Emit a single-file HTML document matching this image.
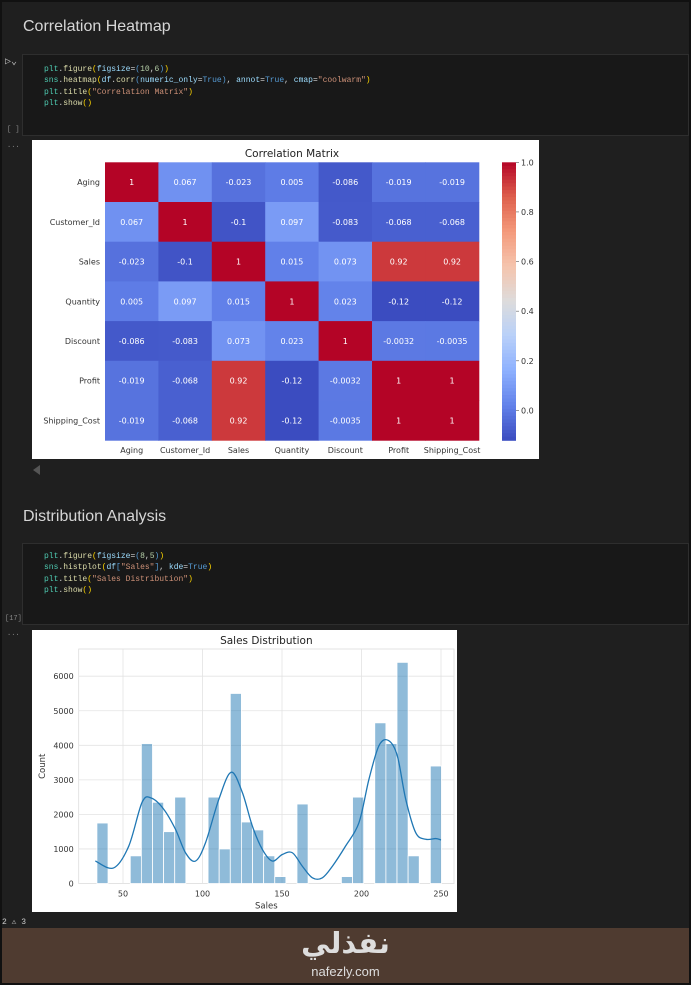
<!DOCTYPE html>
<html><head><meta charset="utf-8">
<style>
*{margin:0;padding:0;box-sizing:border-box}
body{width:691px;height:985px;background:#111;position:relative;overflow:hidden;font-family:"Liberation Sans",sans-serif}
#frame{position:absolute;left:2px;top:2px;width:687px;height:926px;background:#1f1f1f}
.h{position:absolute;left:21px;color:#d6d6d6;font-size:16px;font-family:"Liberation Sans",sans-serif}
.cell{position:absolute;left:20px;right:0;background:#181818;border:1px solid #2e2e2e}
.code{position:absolute;left:42px;font-family:"Liberation Mono",monospace;font-size:8px;line-height:11.3px;color:#d4d4d4;white-space:pre}
.k{color:#4ec9b0}.f{color:#dcdcaa}.s{color:#ce9178}.n{color:#b5cea8}.p{color:#9cdcfe}.b{color:#ffd700}.c{color:#569cd6}
.g{position:absolute;color:#888;font-size:7px;font-family:"Liberation Mono",monospace}
.img{position:absolute;background:#fff}
#footer{position:absolute;left:2px;top:928px;width:687px;height:55px;background:#4f3b30}
</style></head><body>
<div id="frame">
<div class="h" style="top:16px">Correlation Heatmap</div>
<div class="g" style="left:3px;top:54px;font-size:10px;color:#bbb">▷⌄</div>
<div class="cell" style="top:52px;height:82px"></div>
<div class="code" style="top:62px"><span class="k">plt</span>.<span class="f">figure</span><span class="b">(</span><span class="p">figsize</span>=<span class="c">(</span><span class="n">10</span>,<span class="n">6</span><span class="c">)</span><span class="b">)</span>
<span class="k">sns</span>.<span class="f">heatmap</span><span class="b">(</span><span class="p">df</span>.<span class="f">corr</span><span class="c">(</span><span class="p">numeric_only</span>=<span class="c">True</span><span class="c">)</span>, <span class="p">annot</span>=<span class="c">True</span>, <span class="p">cmap</span>=<span class="s">"coolwarm"</span><span class="b">)</span>
<span class="k">plt</span>.<span class="f">title</span><span class="b">(</span><span class="s">"Correlation Matrix"</span><span class="b">)</span>
<span class="k">plt</span>.<span class="f">show</span><span class="b">()</span></div>
<div class="g" style="left:5px;top:124px">[ ]</div>
<div class="g" style="left:5px;top:140px">...</div>
<div class="img" style="left:30px;top:138px;width:507px;height:319px">
<svg id="hm" width="507" height="319" xmlns="http://www.w3.org/2000/svg" font-family="DejaVu Sans, sans-serif"></svg>
</div>
<div style="position:absolute;left:31px;top:463px;width:0;height:0;border-top:5px solid transparent;border-bottom:5px solid transparent;border-right:7px solid #555"></div>

<div class="h" style="top:506px">Distribution Analysis</div>
<div class="cell" style="top:541px;height:82px"></div>
<div class="code" style="top:549px"><span class="k">plt</span>.<span class="f">figure</span><span class="b">(</span><span class="p">figsize</span>=<span class="c">(</span><span class="n">8</span>,<span class="n">5</span><span class="c">)</span><span class="b">)</span>
<span class="k">sns</span>.<span class="f">histplot</span><span class="b">(</span><span class="p">df</span><span class="c">[</span><span class="s">"Sales"</span><span class="c">]</span>, <span class="p">kde</span>=<span class="c">True</span><span class="b">)</span>
<span class="k">plt</span>.<span class="f">title</span><span class="b">(</span><span class="s">"Sales Distribution"</span><span class="b">)</span>
<span class="k">plt</span>.<span class="f">show</span><span class="b">()</span></div>
<div class="g" style="left:3px;top:613px">[17]</div>
<div class="g" style="left:5px;top:628px">...</div>
<div class="img" style="left:30px;top:628px;width:425px;height:282px">
<svg id="hs" width="425" height="282" xmlns="http://www.w3.org/2000/svg" font-family="DejaVu Sans, sans-serif"></svg>
</div>
<div class="g" style="left:0px;top:915px;color:#ccc;font-size:8px">2 ⚠ 3</div>
</div>
<div id="footer">
<div style="position:absolute;left:0;right:0;top:-2px;text-align:center;color:#ddd;font-size:29px;font-weight:bold;font-family:'DejaVu Sans',sans-serif">نفذلي</div>
<div style="position:absolute;left:0;right:0;top:36px;text-align:center;color:#ddd;font-size:13px">nafezly.com</div>
</div>
<script>
const NS="http://www.w3.org/2000/svg";
function mk(p,t,a,txt){const e=document.createElementNS(NS,t);for(const k in a)e.setAttribute(k,a[k]);if(txt!==undefined)e.textContent=txt;p.appendChild(e);return e;}
// ---- heatmap data ----
const hmLabels=["Aging","Customer_Id","Sales","Quantity","Discount","Profit","Shipping_Cost"];
const hmRow0=[1,0.067,-0.023,0.005,-0.086,-0.019,-0.019];
const hmRow1=[0.067,1,-0.1,0.097,-0.083,-0.068,-0.068];
const hmRow2=[-0.023,-0.1,1,0.015,0.073,0.92,0.92];
const hmRow3=[0.005,0.097,0.015,1,0.023,-0.12,-0.12];
const hmRow4=[-0.086,-0.083,0.073,0.023,1,-0.0032,-0.0035];
const hmRow5=[-0.019,-0.068,0.92,-0.12,-0.0032,1,1];
const hmRow6=[-0.019,-0.068,0.92,-0.12,-0.0035,1,1];
const hmRows=[hmRow0,hmRow1,hmRow2,hmRow3,hmRow4,hmRow5,hmRow6];
const cbTicks=[0.0,0.2,0.4,0.6,0.8,1.0];
// ---- histogram data ----
const binStart=33.6, binWidth=6.99;
const counts=[1750,0,0,800,4050,2350,1500,2500,0,0,2500,1000,5500,1780,1550,800,200,0,2300,0,0,0,200,2500,0,4650,4050,6400,800,0,3400];
const kdeX=[32.6,44.1,53.6,62,67.9,75.6,83,89.3,95.6,101.9,110.3,118,125,131.3,137.6,143.9,150.2,156.5,162.8,169.1,175.4,181.7,190,198.4,204.7,211,216.9,222.5,227.8,234.1,240.4,246.7,250];
const kdeY=[650,450,1080,2350,2470,2150,1570,890,650,1180,2440,3220,2640,1670,990,650,840,890,500,165,165,500,1085,1760,3020,3990,4140,3700,2440,1470,1280,1300,1260];
const xTicks=[50,100,150,200,250];
const yTicks=[0,1000,2000,3000,4000,5000,6000];

const cm=[[0,59,76,192],[.125,98,130,234],[.25,141,176,254],[.375,184,208,249],[.5,221,220,220],[.625,245,196,173],[.75,244,154,123],[.875,222,96,77],[1,180,4,38]];
function cmap(t){t=Math.max(0,Math.min(1,t));for(let i=1;i<cm.length;i++){if(t<=cm[i][0]){const a=cm[i-1],b=cm[i],f=(t-a[0])/(b[0]-a[0]);return `rgb(${[1,2,3].map(j=>Math.round(a[j]+(b[j]-a[j])*f)).join(',')})`;}}return 'rgb(180,4,38)';}
(function(){
 const s=document.getElementById('hm');
 const vmin=-0.12,vmax=1,x0=73,y0=22.3,cw=53.4,ch=39.7;
 const col=v=>cmap((v-vmin)/(vmax-vmin));
 const t=mk(s,'text',{x:260,y:17,'font-size':10.5,'text-anchor':'middle',fill:'#222'},'Correlation Matrix');
 
 
 hmRows.forEach((row,i)=>{
  row.forEach((v,j)=>{
   const r=mk(s,'rect',{x:x0+j*cw,y:y0+i*ch,width:cw+0.5,height:ch+0.5,fill:col(v)});
   
   
   const tt=mk(s,'text',{x:x0+j*cw+cw/2,y:y0+i*ch+ch/2+3,'font-size':8,'text-anchor':'middle',fill:'#fff'},String(v));
   
   
  });
  const yl=mk(s,'text',{x:x0-5,y:y0+i*ch+ch/2+3,'font-size':8,'text-anchor':'end',fill:'#333'},hmLabels[i]);
  
  
  const xl=mk(s,'text',{x:x0+i*cw+cw/2,y:y0+7*ch+13,'font-size':8,'text-anchor':'middle',fill:'#333'},hmLabels[i]);
  
  
 });
 const cbx=470,cby=y0,cbh=7*ch,n=80;
 for(let k=0;k<n;k++){const v=vmax-(k+0.5)/n*(vmax-vmin);const r=mk(s,'rect',{x:cbx,y:cby+k*cbh/n,width:14,height:cbh/n+0.6,fill:col(v)});
  
  }
 cbTicks.forEach(v=>{const y=cby+(vmax-v)/(vmax-vmin)*cbh;
  mk(s,'line',{x1:cbx+14,x2:cbx+17,y1:y,y2:y,stroke:'#555','stroke-width':0.6});
  const l=mk(s,'text',{x:cbx+19,y:y+3,'font-size':8,fill:'#333'},v.toFixed(1));
  
  });
})();
(function(){
 const s=document.getElementById('hs');
 const L=46.7,R=422,T=19,B=253.5;
 const X=v=>91+(v-50)*1.59, Y=v=>B-v*0.03455;
 mk(s,'rect',{x:L,y:T,width:R-L,height:B-T,fill:'#fff',stroke:'#ddd','stroke-width':0.8});
 yTicks.forEach(v=>{mk(s,'line',{x1:L,x2:R,y1:Y(v),y2:Y(v),stroke:'#e3e3e3','stroke-width':0.8});
  const l=mk(s,'text',{x:L-5,y:Y(v)+3,'font-size':8,'text-anchor':'end',fill:'#333'},v);
  
  });
 xTicks.forEach(v=>{mk(s,'line',{x1:X(v),x2:X(v),y1:T,y2:B,stroke:'#e3e3e3','stroke-width':0.8});
  const l=mk(s,'text',{x:X(v),y:B+13,'font-size':8,'text-anchor':'middle',fill:'#333'},v);
  
  });
 counts.forEach((c,i)=>{if(c<=0)return;const a=binStart+i*binWidth;
  const r=mk(s,'rect',{x:X(a),y:Y(c),width:X(a+binWidth)-X(a),height:Y(0)-Y(c),fill:'rgba(31,119,180,0.5)',stroke:'#fff','stroke-width':0.8});
  
  });
 const pts=kdeX.map((x,i)=>[X(x),Y(kdeY[i])]);
 let d='M'+pts[0][0]+','+pts[0][1];
 for(let i=0;i<pts.length-1;i++){const p0=pts[i-1]||pts[i],p1=pts[i],p2=pts[i+1],p3=pts[i+2]||p2;
  d+=` C${p1[0]+(p2[0]-p0[0])/6},${p1[1]+(p2[1]-p0[1])/6} ${p2[0]-(p3[0]-p1[0])/6},${p2[1]-(p3[1]-p1[1])/6} ${p2[0]},${p2[1]}`;}
 const k=mk(s,'path',{d:d,fill:'none',stroke:'#1f77b4','stroke-width':1.3});
 
 
 const t=mk(s,'text',{x:(L+R)/2,y:14,'font-size':10.5,'text-anchor':'middle',fill:'#222'},'Sales Distribution');
 
 
 const xl=mk(s,'text',{x:(L+R)/2,y:B+25,'font-size':8.5,'text-anchor':'middle',fill:'#333'},'Sales');
 
 
 const yl=mk(s,'text',{x:0,y:0,'font-size':8.5,'text-anchor':'middle',fill:'#333',transform:`translate(13,${(T+B)/2}) rotate(-90)`},'Count');
 
 
})();
</script>
</body></html>
